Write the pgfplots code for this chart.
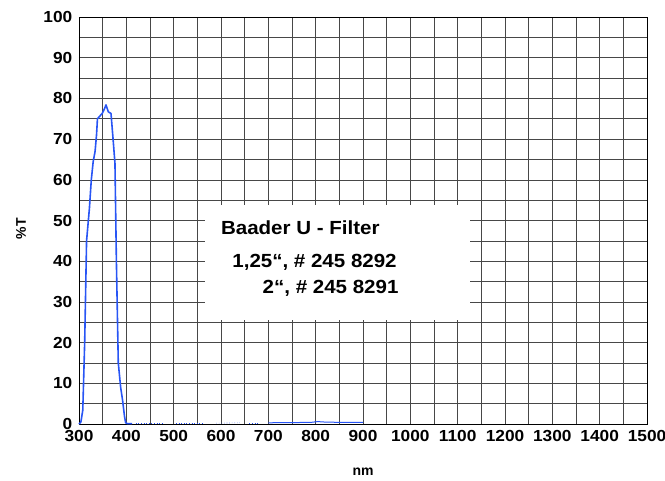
\documentclass[border=0pt]{standalone}
\usepackage{fontspec}
\setmainfont{Liberation Sans}
\usepackage{pgfplots}
\pgfplotsset{compat=1.18}
\usetikzlibrary{calc}
\definecolor{curve}{RGB}{40,85,245}
\begin{document}
\begin{tikzpicture}
\begin{axis}[name=ax,
  scale only axis, width=568pt, height=407pt,
  xmin=300, xmax=1500, ymin=0, ymax=100,
  xtick={300,400,...,1500}, ytick={0,10,...,100},
  minor xtick={350,450,...,1450}, minor ytick={5,15,...,95},
  grid=both,
  major grid style={black!72, line width=0.6pt},
  minor grid style={black!72, line width=0.6pt},
  major tick length=0pt, minor tick length=0pt,
  axis line style={black, line width=0.7pt},
  tick label style={font=\fontsize{16}{18}\selectfont\bfseries, xscale=1.08, inner sep=1pt},
  /pgf/number format/assume math mode=true,
  /pgf/number format/1000 sep={},
  xticklabel style={yshift=-5pt},
  yticklabel style={xshift=-5pt},
  xlabel={\bfseries nm}, ylabel={\bfseries\%T},
  label style={font=\fontsize{14}{16}\selectfont},
  xlabel style={yshift=-22pt},
  ylabel style={yshift=13pt, xshift=-8pt},
  clip=false,
]
\fill[white] (axis cs:566,25.5) rectangle (axis cs:1126,53.8);
\addplot[curve, line width=1.6pt, line join=round] coordinates {
(300,0) (304,0.5) (308,3.4) (312,20) (316,45) (322,53) (326,60) (330,64.5) (334,67) (337,71) (339,75) (349,76.3) (354,77.5) (357,78.4) (362,76.7) (367.6,76.3) (372,70) (376,64) (379,40) (383,15) (388,9) (392,5.9) (396,2) (398.5,0.3) (402,0.1) (412,0.1)
};
\addplot[curve, line width=1pt] coordinates {
(700,0.3) (750,0.35) (790,0.4) (805,0.6) (815,0.5) (850,0.4) (900,0.4)
};
\addplot[curve, line width=0.6pt, dotted] coordinates {(420,0.2) (480,0.2)};
\addplot[curve, line width=0.6pt, dotted] coordinates {(505,0.2) (560,0.2)};
\addplot[curve, line width=0.6pt, dotted] coordinates {(590,0.2) (640,0.3)};
\addplot[curve, line width=0.6pt, dotted] coordinates {(660,0.2) (680,0.2)};
\node[anchor=west, xscale=1.08, font=\fontsize{19}{22}\selectfont\bfseries] at (axis cs:592,48.2) {Baader U - Filter};
\node[anchor=west, xscale=1.08, font=\fontsize{19}{22}\selectfont\bfseries] at (axis cs:616,39.8) {1,25“, \# 245 8292};
\node[anchor=east, xscale=1.08, font=\fontsize{19}{22}\selectfont\bfseries] at (axis cs:983,33.4) {2“, \# 245 8291};
\end{axis}
\pgfresetboundingbox
\path ($(ax.south west)+(-79pt,-56pt)$) rectangle ($(ax.north east)+(18pt,17pt)$);
\end{tikzpicture}
\end{document}
